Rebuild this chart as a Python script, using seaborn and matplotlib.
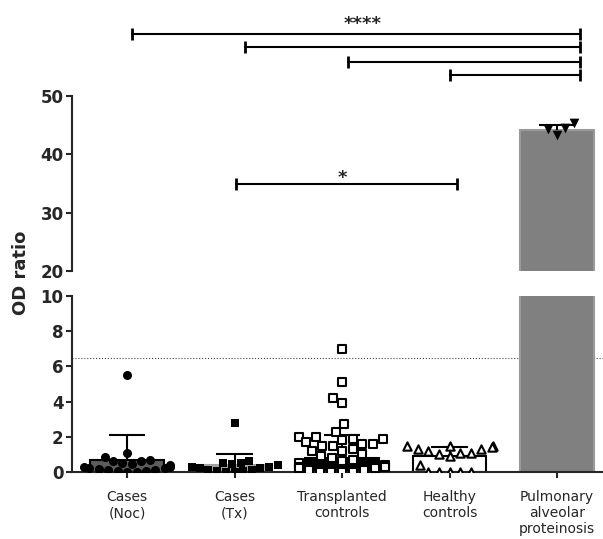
import pandas as pd
import matplotlib
matplotlib.use("Agg")
import matplotlib.pyplot as plt
import seaborn as sns

# Groups and tick labels
groups = ["Noc", "Tx", "Transplanted", "Healthy", "PAP"]
tick_labels = ["Cases\n(Noc)", "Cases\n(Tx)", "Transplanted\ncontrols",
               "Healthy\ncontrols", "Pulmonary\nalveolar\nproteinosis"]

# Bar heights (mean) and upper end of error bars
bar_means = [0.7, 0.4, 0.8, 0.9, 44.2]
err_top = [2.1, 1.05, 2.1, 1.4, 45.0]

# Individual OD ratios per group
noc_vals = [5.5, 1.1, 0.85, 0.7, 0.6, 0.5, 0.4, 0.3, 0.2, 0.15, 0.1, 0.05,
            0.0, 0.0, 0.05, 0.1, 0.2, 0.3, 0.45, 0.6]
tx_vals = [2.8, 0.65, 0.5, 0.4, 0.3, 0.2, 0.1, 0.05, 0.0, 0.0, 0.05,
           0.1, 0.2, 0.3, 0.45, 0.5]
transpl_vals = [7.0, 5.1, 4.2, 3.9, 2.7, 2.3, 2.0, 2.0, 1.9, 1.9, 1.8, 1.7,
                1.6, 1.6, 1.5, 1.5, 1.3, 1.2, 1.2, 1.0, 0.9, 0.8, 0.7, 0.6,
                0.5, 0.4, 0.3, 0.2, 0.1, 0.0, 0.0, 0.0, 0.0, 0.1, 0.2, 0.3]
healthy_vals = [1.5, 1.5, 1.5, 1.4, 1.3, 1.3, 1.2, 1.1, 1.1, 1.0, 0.9, 0.4,
                0.0, 0.0, 0.0, 0.0, 0.0]
pap_vals = [45.3, 44.5, 44.3, 43.4]

# Reference line and significance brackets (x in category units)
cutoff = 6.5
brackets = [(0.05, 4.21, 60.6), (1.10, 4.21, 58.4), (2.06, 4.21, 55.8),
            (3.0, 4.21, 53.6), (1.01, 3.07, 35.0)]
stars = [(2.19, 62.3, "****"), (2.0, 36.0, "*")]

bar_colors = ["#5c5c5c", "#a3a3a3", "#000000", "#ffffff", "#808080"]
bar_edges = ["#000000", "#a3a3a3", "#000000", "#000000", "#9a9a9a"]

sns.set_style("ticks")
plt.rcParams["font.family"] = ["DejaVu Sans"]

fig = plt.figure(figsize=(6.03, 5.39), dpi=100)
ax_lo = fig.add_axes([0.1194, 0.1243, 0.8806, 0.3265])
ax_hi = fig.add_axes([0.1194, 0.4972, 0.8806, 0.5028])

xlim = (-0.512, 4.428)


def draw_bars(ax):
    sns.barplot(x=groups, y=bar_means, order=groups, palette=bar_colors,
                hue=groups, legend=False, width=0.68, ax=ax, zorder=1)
    for patch, ec in zip(ax.patches, bar_edges):
        patch.set_edgecolor(ec)
        patch.set_linewidth(1.5)
    ax.vlines(range(len(groups)), bar_means, err_top, color="black",
              lw=1.5, zorder=2)
    ax.hlines(err_top, [i - 0.17 for i in range(len(groups))],
              [i + 0.17 for i in range(len(groups))], color="black",
              lw=1.5, zorder=2)


def swarm(ax, name, vals, marker, face, size, lw):
    df = pd.DataFrame({"group": [name] * len(vals), "value": vals})
    sns.swarmplot(data=df, x="group", y="value", order=groups, marker=marker,
                  color=face, edgecolor="black", linewidth=lw, size=size,
                  ax=ax, zorder=3, warn_thresh=1)
    ax.collections[-1].set_clip_on(False)


# Lower panel
draw_bars(ax_lo)
swarm(ax_lo, "Noc", noc_vals, "o", "black", 6.5, 0)
swarm(ax_lo, "Tx", tx_vals, "s", "black", 6, 0)
swarm(ax_lo, "Transplanted", transpl_vals, "s", "white", 6, 1.5)
swarm(ax_lo, "Healthy", healthy_vals, "^", "white", 6, 1.5)
ax_lo.axhline(cutoff, color="#444444", lw=0.8, ls=":", zorder=0)
ax_lo.set_xlim(*xlim)
ax_lo.set_ylim(0, 10)
ax_lo.set_yticks([0, 2, 4, 6, 8, 10])
ax_lo.set_xticks(range(len(groups)))
ax_lo.set_xticklabels(tick_labels, fontsize=10)
ax_lo.set_xlabel("")
ax_lo.set_ylabel("")
ax_lo.tick_params(axis="x", length=4, width=1.5, pad=9)
ax_lo.tick_params(axis="y", length=4, width=1.5, pad=2, labelsize=12)
for lab in ax_lo.get_yticklabels():
    lab.set_fontweight("bold")
sns.despine(ax=ax_lo)
for s in ["left", "bottom"]:
    ax_lo.spines[s].set_linewidth(1.5)

# Upper panel
draw_bars(ax_hi)
swarm(ax_hi, "PAP", pap_vals, "v", "black", 7, 0)
for x1, x2, y in brackets:
    ax_hi.plot([x1, x2], [y, y], color="black", lw=1.5, marker="|",
               markersize=8, mew=2, clip_on=False)
for x, y, s in stars:
    ax_hi.text(x, y, s, ha="center", va="center", fontsize=13,
               fontweight="bold")
ax_hi.set_xlim(*xlim)
ax_hi.set_ylim(20, 66.46)
ax_hi.set_yticks([20, 30, 40, 50])
ax_hi.set_xticks([])
ax_hi.set_xlabel("")
ax_hi.set_ylabel("")
ax_hi.tick_params(axis="y", length=4, width=1.5, pad=2, labelsize=12)
for lab in ax_hi.get_yticklabels():
    lab.set_fontweight("bold")
sns.despine(ax=ax_hi, bottom=True)
ax_hi.spines["left"].set_bounds(20, 50)
ax_hi.spines["left"].set_linewidth(1.5)

fig.text(0.035, 1 - 273 / 539, "OD ratio", rotation=90, ha="center",
         va="center", fontsize=13, fontweight="bold")

fig.savefig("out.png", dpi=100)
